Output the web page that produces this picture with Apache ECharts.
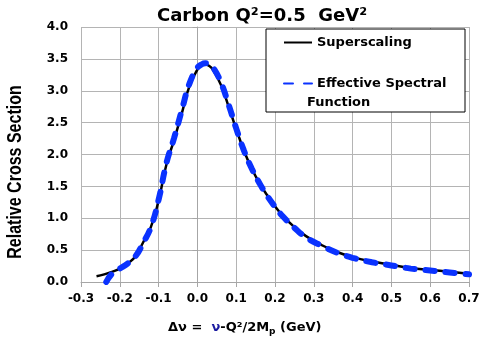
<!DOCTYPE html>
<html>
<head>
<meta charset="utf-8">
<script src="https://cdn.jsdelivr.net/npm/echarts@6/dist/echarts.min.js"></script>
<style>
  html, body { margin: 0; padding: 0; background: #fff; }
  #chart { width: 484px; height: 346px; }
</style>
</head>
<body>
<div id="chart"></div>
<script>
// Superscaling (black solid)
const ssX = [-0.26, -0.24, -0.22, -0.20, -0.18, -0.16, -0.14, -0.12, -0.10, -0.08, -0.06, -0.04, -0.02, 0.00, 0.01, 0.02, 0.03, 0.04, 0.06, 0.08, 0.10, 0.12, 0.14, 0.16, 0.18, 0.20, 0.22, 0.25, 0.28, 0.32, 0.36, 0.40, 0.45, 0.50, 0.55, 0.60, 0.65, 0.70];
const ssY = [0.09, 0.12, 0.16, 0.21, 0.29, 0.40, 0.62, 0.86, 1.28, 1.84, 2.23, 2.65, 3.08, 3.33, 3.40, 3.41, 3.39, 3.33, 3.10, 2.76, 2.40, 2.06, 1.78, 1.55, 1.36, 1.19, 1.04, 0.86, 0.72, 0.58, 0.47, 0.39, 0.32, 0.27, 0.22, 0.19, 0.16, 0.13];
// Effective Spectral Function (blue dashed)
const esX = [-0.235, -0.22, -0.20, -0.18, -0.16, -0.14, -0.12, -0.10, -0.08, -0.06, -0.04, -0.02, 0.00, 0.01, 0.02, 0.03, 0.04, 0.06, 0.08, 0.10, 0.12, 0.14, 0.16, 0.18, 0.20, 0.22, 0.25, 0.28, 0.32, 0.36, 0.40, 0.45, 0.50, 0.55, 0.60, 0.65, 0.70];
const esY = [0.00, 0.13, 0.21, 0.29, 0.40, 0.61, 0.86, 1.29, 1.86, 2.26, 2.70, 3.12, 3.36, 3.41, 3.43, 3.42, 3.37, 3.14, 2.79, 2.41, 2.06, 1.78, 1.55, 1.35, 1.18, 1.03, 0.85, 0.70, 0.57, 0.46, 0.38, 0.31, 0.26, 0.21, 0.18, 0.15, 0.12];

const chart = echarts.init(document.getElementById('chart'));
const bold = 'bold';
const fam = 'DejaVu Sans';

const option = {
  animation: false,
  backgroundColor: '#fff',
  title: {
    text: 'Carbon Q²=0.5  GeV²',
    left: 257,
    top: 2,
    textAlign: 'center',
    textStyle: { fontFamily: fam, fontWeight: bold, fontSize: 18, color: '#000' }
  },
  grid: { left: 81, right: 15, top: 27, bottom: 64 },
  xAxis: {
    type: 'value',
    min: -0.3,
    max: 0.7,
    interval: 0.1,
    axisLine: { lineStyle: { color: '#a6a6a6', width: 1 } },
    axisTick: { show: true, length: 5, lineStyle: { color: '#a6a6a6' } },
    splitLine: { show: true, lineStyle: { color: '#b4b4b4', width: 1 } },
    axisLabel: {
      margin: 11,
      fontFamily: fam, fontWeight: bold, fontSize: 12, color: '#000',
      formatter: (v) => v.toFixed(1)
    }
  },
  yAxis: {
    type: 'value',
    min: 0,
    max: 4,
    interval: 0.5,
    axisLine: { show: true, lineStyle: { color: '#a6a6a6', width: 1 } },
    axisTick: { show: true, length: 5, lineStyle: { color: '#a6a6a6' } },
    splitLine: { show: true, lineStyle: { color: '#b4b4b4', width: 1 } },
    axisLabel: {
      margin: 13,
      fontFamily: fam, fontWeight: bold, fontSize: 12, color: '#000',
      formatter: (v) => v.toFixed(1)
    }
  },
  legend: {
    orient: 'vertical',
    left: 278,
    top: 31,
    z: 10,
    itemWidth: 28,
    itemHeight: 14,
    itemGap: 28,
    selectedMode: false,
    itemStyle: { opacity: 0 },
    // the last word of the second entry wraps onto its own line (drawn below)
    formatter: (name) => name.replace(' Function', ''),
    textStyle: { fontFamily: fam, fontWeight: bold, fontSize: 13, color: '#000' },
    data: ['Superscaling', 'Effective Spectral Function']
  },
  graphic: [
    {
      type: 'rect',
      shape: { x: 266, y: 29, width: 199, height: 83 },
      style: { fill: '#fff', stroke: '#000', lineWidth: 1 },
      z: 1
    },
    {
      type: 'text',
      x: 307,
      y: 103,
      z: 10,
      style: {
        text: 'Function',
        fontFamily: fam,
        fontWeight: bold,
        fontSize: 13,
        fill: '#000',
        verticalAlign: 'middle'
      }
    },
    {
      type: 'text',
      x: 15,
      y: 172,
      rotation: Math.PI / 2,
      scaleX: 0.8,
      style: {
        text: 'Relative Cross Section',
        fontFamily: 'Liberation Sans',
        fontWeight: bold,
        fontSize: 20,
        fill: '#000',
        align: 'center',
        verticalAlign: 'middle'
      }
    },
    {
      type: 'text',
      x: 168,
      y: 328,
      style: {
        text: '{a|Δν =  }{b|ν}{a|-Q²/2M}{s|p}{a| (GeV)}',
        verticalAlign: 'middle',
        rich: {
          a: { fontFamily: fam, fontWeight: bold, fontSize: 13, fill: '#000' },
          b: { fontFamily: fam, fontWeight: bold, fontSize: 13, fill: '#1a1aa0' },
          s: { fontFamily: fam, fontWeight: bold, fontSize: 9, fill: '#000', padding: [8, 0, 0, 0] }
        }
      }
    }
  ],
  series: [
    {
      name: 'Superscaling',
      type: 'line',
      smooth: true,
      symbol: 'none',
      z: 3,
      lineStyle: { color: '#000', width: 2.5 },
      itemStyle: { color: '#000' },
      data: ssX.map((x, i) => [x, ssY[i]])
    },
    {
      name: 'Effective Spectral Function',
      type: 'line',
      smooth: true,
      symbol: 'none',
      z: 4,
      lineStyle: { color: '#0a32ff', width: 6, type: [9, 11], cap: 'round' },
      itemStyle: { color: '#0a32ff' },
      data: esX.map((x, i) => [x, esY[i]])
    }
  ]
};
chart.setOption(option);
</script>
</body>
</html>
